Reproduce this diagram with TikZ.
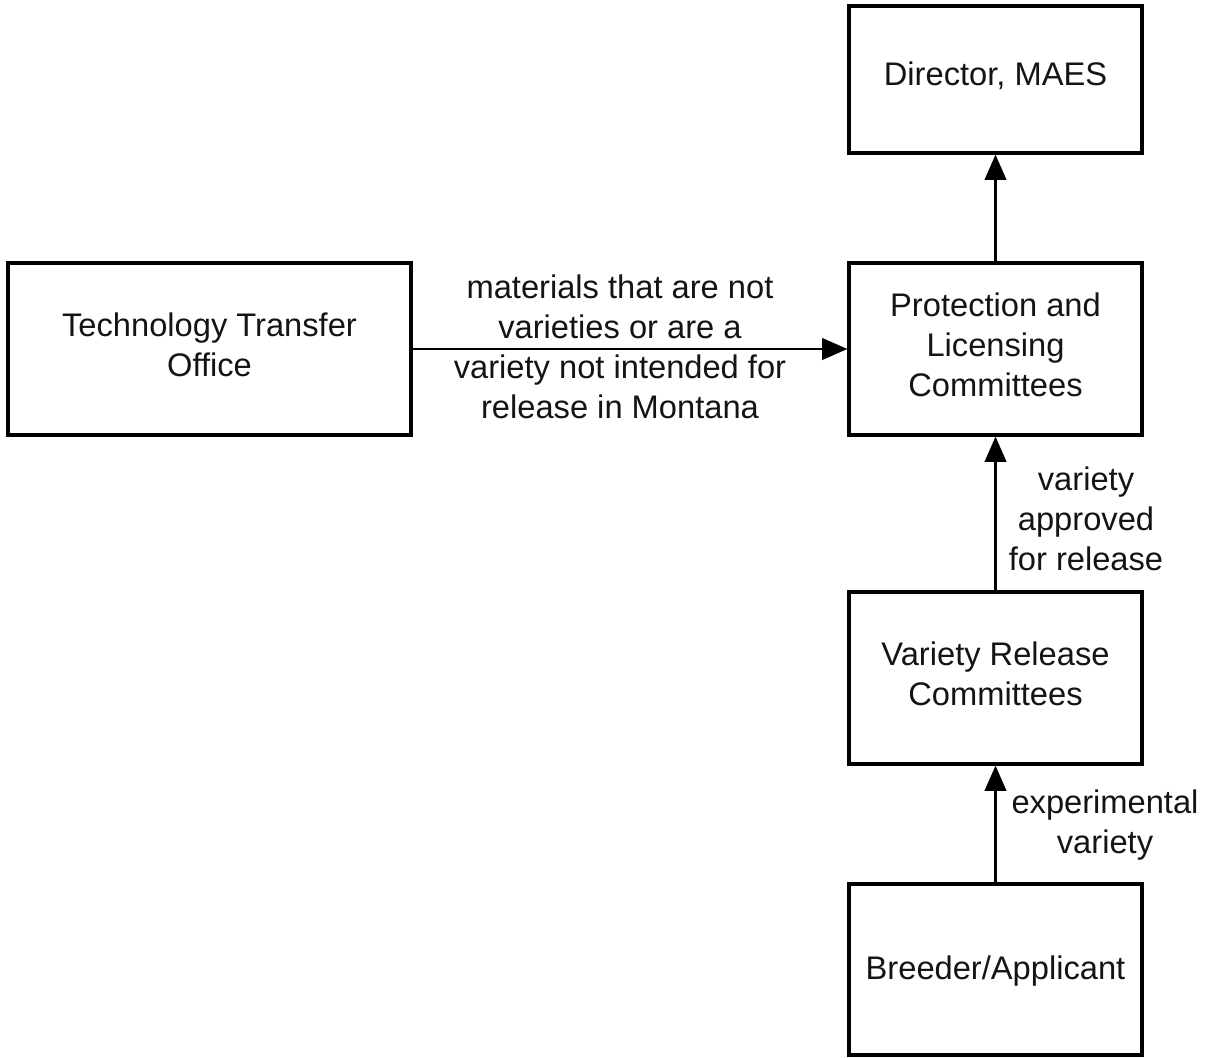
\documentclass[tikz,border=0pt]{standalone}
\usepackage{fontspec}
\setmainfont{Liberation Sans}
\usetikzlibrary{arrows.meta}
\begin{document}
\begin{tikzpicture}[x=0.75pt,y=-0.75pt,
  box/.style={draw=black, line width=2.3pt, rectangle, inner sep=0pt},
  lbl/.style={align=center, inner sep=0pt, font={\fontsize{24.5}{30}\selectfont}, text=black!92},
  boxtext/.style={label={[lbl,yshift=3pt]center:{#1}}},
  boxtextlow/.style={label={[lbl,yshift=-1pt]center:{#1}}},
  arr/.style={line width=2.2pt, -{Triangle[width=16pt,length=19pt]}}]
\useasboundingbox (0,0) rectangle (1212,1057);
\node[box, minimum width=219.75pt, minimum height=110.25pt, boxtext={Director, MAES}] (dir) at (995.5,79.5) {};
\node[box, minimum width=219.75pt, minimum height=129pt, boxtext={Protection and\\Licensing\\Committees}] (plc) at (995.5,349) {};
\node[box, minimum width=302.25pt, minimum height=129pt, boxtext={Technology Transfer\\Office}] (tto) at (209.5,349) {};
\node[box, minimum width=219.75pt, minimum height=129pt, boxtext={Variety Release\\Committees}] (vrc) at (995.5,678) {};
\node[box, minimum width=219.75pt, minimum height=128.25pt, boxtextlow={Breeder/Applicant}] (ba) at (995.5,969.5) {};
\draw[arr] (plc.north) -- (dir.south);
\draw[arr] (tto.east) -- (plc.west);
\draw[arr] (vrc.north) -- (plc.south);
\draw[arr] (ba.north) -- (vrc.south);
\node[lbl] (l1) at (620,347) {materials that are not\\varieties or are a\\variety not intended for\\release in Montana};
\node[lbl] (l2) at (1086,519) {variety\\approved\\for release};
\node[lbl] (l3) at (1105,825) {experimental\\variety};
\end{tikzpicture}
\end{document}
